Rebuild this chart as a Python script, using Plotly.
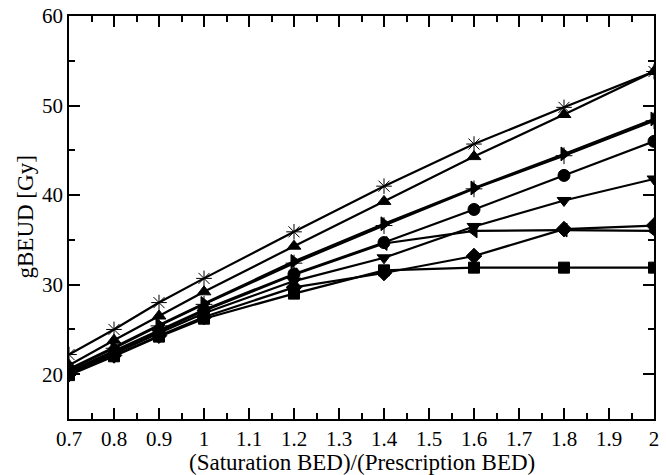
import plotly.graph_objects as go

x_vals = [0.7, 0.8, 0.9, 1.0, 1.2, 1.4, 1.6, 1.8, 2.0]

star = [22.2, 25.0, 28.0, 30.7, 35.9, 41.0, 45.7, 49.8, 53.8]
tri_up = [21.0, 23.8, 26.5, 29.2, 34.3, 39.3, 44.3, 49.0, 53.8]
tri_right = [20.6, 23.0, 25.5, 27.9, 32.6, 36.8, 40.8, 44.6, 48.5]
plus = [20.5, 22.9, 25.4, 27.8, 32.4, 36.6, 40.7, 44.4, 48.3]
circle = [20.3, 22.6, 24.9, 27.2, 31.2, 34.7, 38.4, 42.2, 46.0]
tri_down = [20.1, 22.3, 24.6, 26.8, 30.4, 33.0, 36.5, 39.4, 41.8]
tri_left = [20.2, 22.5, 24.8, 27.1, 31.1, 34.6, 36.0, 36.1, 36.0]
diamond = [20.0, 22.1, 24.3, 26.4, 29.7, 31.3, 33.2, 36.2, 36.6]
square = [19.9, 22.0, 24.2, 26.2, 29.0, 31.6, 31.9, 31.9, 31.9]

x_tick_vals = [0.7, 0.8, 0.9, 1.0, 1.1, 1.2, 1.3, 1.4, 1.5, 1.6, 1.7, 1.8, 1.9, 2.0]
x_tick_text = ["0.7", "0.8", "0.9", "1", "1.1", "1.2", "1.3", "1.4", "1.5", "1.6", "1.7", "1.8", "1.9", "2"]

x_title = "(Saturation BED)/(Prescription BED)"
y_title = "gBEUD [Gy]"

series = [
    ("square", square, "square", 11),
    ("diamond", diamond, "diamond", 12),
    ("tri_left", tri_left, "triangle-left", 12),
    ("tri_down", tri_down, "triangle-down", 12),
    ("circle", circle, "circle", 12),
    ("plus", plus, "cross-thin-open", 12),
    ("tri_right", tri_right, "triangle-right", 12),
    ("tri_up", tri_up, "triangle-up", 12),
    ("star", star, "asterisk-open", 13),
]

fig = go.Figure()
for name, ys, sym, size in series:
    fig.add_trace(go.Scatter(
        x=x_vals, y=ys, mode="lines+markers", name=name,
        line=dict(color="black", width=2.2),
        marker=dict(symbol=sym, size=size, color="black",
                    line=dict(color="black", width=1)),
        showlegend=False,
    ))

serif = "Liberation Serif, Times New Roman, serif"
tick_font = dict(family=serif, size=21, color="black")
title_font = dict(family=serif, size=23, color="black")

fig.update_layout(
    width=667, height=475,
    margin=dict(l=69, r=13, t=16, b=56),
    paper_bgcolor="white", plot_bgcolor="white",
    font=tick_font,
    xaxis=dict(
        range=[0.7, 2.0], automargin=False,
        tickvals=x_tick_vals, ticktext=x_tick_text,
        showline=True, linecolor="black", linewidth=1.5, mirror="allticks",
        ticks="inside", ticklen=11, tickwidth=1.5, tickcolor="black",
        minor=dict(ticks="inside", ticklen=6, tickwidth=1.5, tickcolor="black", dtick=0.05, tick0=0.7, showgrid=False),
        showgrid=False, zeroline=False,
        tickfont=tick_font,
    ),
    yaxis=dict(
        range=[15, 60], tickmode="linear", tick0=20, dtick=10, automargin=False,
        showline=True, linecolor="black", linewidth=1.5, mirror="allticks",
        ticks="inside", ticklen=11, tickwidth=1.5, tickcolor="black",
        minor=dict(ticks="inside", ticklen=6, tickwidth=1.5, tickcolor="black", dtick=5, tick0=15, showgrid=False),
        showgrid=False, zeroline=False,
        tickfont=tick_font,
    ),
    annotations=[
        dict(text=x_title, xref="paper", yref="paper", x=0.5, y=0,
             xanchor="center", yanchor="top", yshift=-29, showarrow=False, font=title_font),
        dict(text=y_title, xref="paper", yref="paper", x=0, y=0.5,
             xanchor="center", yanchor="middle", xshift=-44, textangle=-90, showarrow=False, font=title_font),
    ],
)

fig.write_html("out.html")
